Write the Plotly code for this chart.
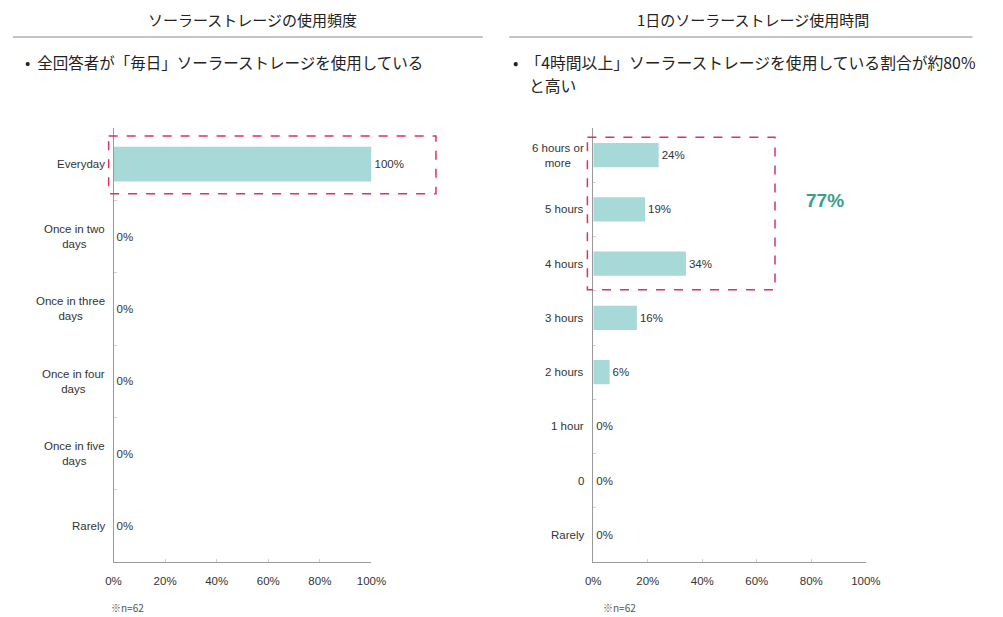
import plotly.graph_objects as go

# Usage frequency (left panel)
freq_categories = ["Everyday", "Once in two<br>days", "Once in three<br>days",
                   "Once in four<br>days", "Once in five<br>days", "Rarely"]
freq_values = [100, 0, 0, 0, 0, 0]

# Daily usage time (right panel)
time_categories = ["6 hours or<br>more", "5 hours", "4 hours", "3 hours",
                   "2 hours", "1 hour", "0", "Rarely"]
time_values = [24, 19, 34, 16, 6, 0, 0, 0]

x_ticks = [0, 20, 40, 60, 80, 100]
x_tick_labels = ["0%", "20%", "40%", "60%", "80%", "100%"]

left_title = "ソーラーストレージの使用頻度"
right_title = "1日のソーラーストレージ使用時間"
left_note = "•  全回答者が「毎日」ソーラーストレージを使用している"
right_note_lines = ["•  「4時間以上」ソーラーストレージを使用している割合が約80%", "と高い"]
highlight_total = "77%"
sample_note = "※n=62"

W, H = 1003, 617
BAR = "#a8d9d9"
TXT = "#333333"
AX = "#9a9a9a"
RED = "#e0305c"
LAT = "Liberation Sans, Arial, sans-serif"
JP = "Noto Sans CJK JP, sans-serif"


def px(x):
    return x / W


def py(y):
    return 1 - y / H


fig = go.Figure()

fig.add_trace(go.Bar(
    y=list(range(len(freq_categories))), x=freq_values, orientation="h",
    marker=dict(color=BAR, line=dict(width=0)), width=0.48,
    text=[f"{v}%" for v in freq_values], textposition="outside",
    textfont=dict(family=LAT, size=11.5, color=TXT), cliponaxis=False,
    xaxis="x", yaxis="y", hoverinfo="skip",
))
fig.add_trace(go.Bar(
    y=list(range(len(time_categories))), x=time_values, orientation="h",
    marker=dict(color=BAR, line=dict(width=0)), width=0.45,
    text=[f"{v}%" for v in time_values], textposition="outside",
    textfont=dict(family=LAT, size=11.5, color=TXT), cliponaxis=False,
    xaxis="x2", yaxis="y2", hoverinfo="skip",
))

xaxis_common = dict(
    range=[0, 100], tickmode="array", tickvals=x_ticks, ticktext=x_tick_labels,
    showgrid=False, zeroline=False, showline=True, linecolor=AX, linewidth=1,
    ticks="inside", ticklen=3, tickcolor="#cfcfcf", ticklabelstandoff=8,
    tickfont=dict(family=LAT, size=11.5, color=TXT), fixedrange=True,
)

fig.update_layout(
    width=W, height=H, margin=dict(l=0, r=0, t=0, b=0),
    paper_bgcolor="white", plot_bgcolor="white", showlegend=False,
    bargap=0.5,
    xaxis=dict(domain=[px(108), px(372)], anchor="y", **xaxis_common),
    yaxis=dict(domain=[py(562), py(128)], anchor="x",
               range=[len(freq_categories) - 0.5, -0.5],
               showticklabels=False, showgrid=False, zeroline=False,
               showline=True, linecolor=AX, linewidth=1,
               tickvals=[i + 0.5 for i in range(len(freq_categories) - 1)],
               ticks="inside", ticklen=3, tickcolor="#cfcfcf"),
    xaxis2=dict(domain=[px(599), px(878)], anchor="y2", **xaxis_common),
    yaxis2=dict(domain=[py(562), py(128)], anchor="x2",
                range=[len(time_categories) - 0.5, -0.5],
                showticklabels=False, showgrid=False, zeroline=False,
                showline=True, linecolor=AX, linewidth=1,
                tickvals=[i + 0.5 for i in range(len(time_categories) - 1)],
                ticks="inside", ticklen=3, tickcolor="#cfcfcf"),
)

annotations = []
# Category labels, centred lines, right-aligned to the axis
for i, c in enumerate(freq_categories):
    annotations.append(dict(
        text=c, xref="paper", yref="y", x=px(101), y=i, xanchor="right",
        yanchor="middle", align="center", showarrow=False,
        font=dict(family=LAT, size=11.5, color=TXT)))
for i, c in enumerate(time_categories):
    annotations.append(dict(
        text=c, xref="paper", yref="y2", x=px(592), y=i, xanchor="right",
        yanchor="middle", align="center", showarrow=False,
        font=dict(family=LAT, size=11.5, color=TXT)))

# Panel headings and key messages
annotations += [
    dict(text=left_title, xref="paper", yref="paper", x=px(250), y=py(19),
         xanchor="center", yanchor="middle", showarrow=False,
         font=dict(family=JP, size=15, color="#222222")),
    dict(text=right_title, xref="paper", yref="paper", x=px(762), y=py(19),
         xanchor="center", yanchor="middle", showarrow=False,
         font=dict(family=JP, size=15, color="#222222")),
    dict(text=left_note, xref="paper", yref="paper", x=px(15), y=py(62),
         xanchor="left", yanchor="middle", align="left", showarrow=False,
         font=dict(family=JP, size=15.5, color="#222222")),
    dict(text=right_note_lines[0], xref="paper", yref="paper", x=px(515), y=py(62),
         xanchor="left", yanchor="middle", align="left", showarrow=False,
         font=dict(family=JP, size=15.8, color="#222222")),
    dict(text=right_note_lines[1], xref="paper", yref="paper", x=px(531), y=py(85),
         xanchor="left", yanchor="middle", align="left", showarrow=False,
         font=dict(family=JP, size=15.8, color="#222222")),
    dict(text=highlight_total, xref="paper", yref="paper", x=px(836), y=py(200),
         xanchor="center", yanchor="middle", showarrow=False,
         font=dict(family=LAT, size=19, color="#3a9e8a", weight="bold")),
    dict(text=sample_note, xref="paper", yref="paper", x=px(103), y=py(607),
         xanchor="left", yanchor="middle", showarrow=False,
         font=dict(family=JP, size=10, color="#555555")),
    dict(text=sample_note, xref="paper", yref="paper", x=px(607), y=py(607),
         xanchor="left", yanchor="middle", showarrow=False,
         font=dict(family=JP, size=10, color="#555555")),
]
fig.update_layout(annotations=annotations)

fig.update_layout(shapes=[
    # heading rules
    dict(type="line", xref="paper", yref="paper", x0=px(5), x1=px(486),
         y0=py(37), y1=py(37), line=dict(color="#8a8a8a", width=1)),
    dict(type="line", xref="paper", yref="paper", x0=px(513), x1=px(987),
         y0=py(37), y1=py(37), line=dict(color="#8a8a8a", width=1)),
    # highlight boxes
    dict(type="rect", xref="paper", yref="y", x0=px(103), x1=px(438),
         y0=-0.39, y1=0.41, line=dict(color=RED, width=1.5, dash="dash")),
    dict(type="rect", xref="paper", yref="y2", x0=px(593), x1=px(785),
         y0=-0.33, y1=2.48, line=dict(color=RED, width=1.5, dash="dash")),
])

fig.write_html("out.html")
